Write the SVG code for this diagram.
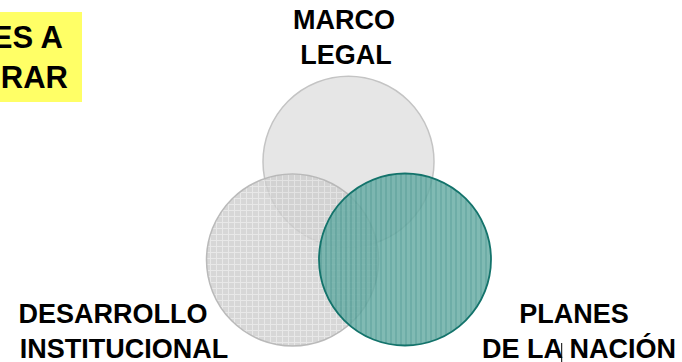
<svg xmlns="http://www.w3.org/2000/svg" width="682" height="362" viewBox="0 0 682 362">
<defs>
<pattern id="grid" width="6" height="6" patternUnits="userSpaceOnUse">
<rect width="6" height="6" fill="#cdcdcd"/>
<path d="M0 0.5H6M0.5 0V6" stroke="#e2e2e2" stroke-width="1"/>
</pattern>
<pattern id="stripes" width="5" height="5" patternUnits="userSpaceOnUse">
<rect width="5" height="5" fill="#6aaea6"/>
<path d="M1 0V5" stroke="#3f918a" stroke-width="1"/>
</pattern>
<style>
.lbl{font-family:"Liberation Sans",Arial,sans-serif;font-weight:bold;font-size:27px;fill:#000;text-anchor:middle}
.note{font-family:"Liberation Sans",Arial,sans-serif;font-weight:bold;font-size:31px;fill:#000;text-anchor:end}
</style>
</defs>
<rect width="682" height="362" fill="#fff"/>
<g id="note">
<rect x="0" y="12" width="82" height="90" fill="#ffff66"/>
<text class="note" x="63" y="48">ES A</text>
<text class="note" x="68" y="88">RAR</text>
</g>
<g id="marco-legal">
<circle cx="348.5" cy="161.7" r="85.5" fill="#e2e2e2" fill-opacity="0.85" stroke="#c4c4c4" stroke-width="1.5"/>
<text class="lbl" x="344" y="29">MARCO</text>
<text class="lbl" x="346" y="64">LEGAL</text>
</g>
<g id="desarrollo-institucional">
<circle cx="292.5" cy="260" r="86" fill="url(#grid)" fill-opacity="0.8" stroke="#b4b4b4" stroke-width="1.5" stroke-opacity="0.9"/>
<text class="lbl" x="113" y="323">DESARROLLO</text>
<text class="lbl" x="124" y="358">INSTITUCIONAL</text>
</g>
<g id="planes-de-la-nacion">
<circle cx="405" cy="259.5" r="86" fill="url(#stripes)" fill-opacity="0.85" stroke="#13736b" stroke-width="1.8"/>
<text class="lbl" x="574" y="323">PLANES</text>
<text class="lbl" x="579" y="358">DE LA NACIÓN</text>
</g>
<g id="connectors"></g>
<line x1="561.7" y1="343" x2="561.7" y2="362" stroke="#000" stroke-width="1"/>
</svg>
